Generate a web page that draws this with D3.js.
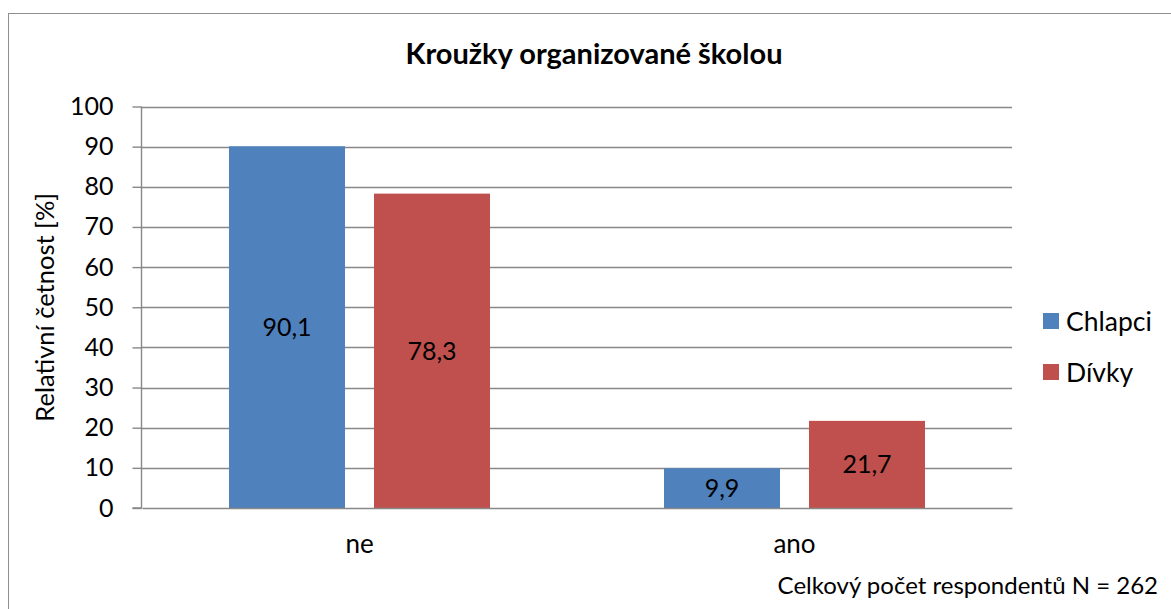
<!DOCTYPE html>
<html><head><meta charset="utf-8">
<script src="https://cdnjs.cloudflare.com/ajax/libs/d3/7.8.5/d3.min.js"></script>
<style>body{margin:0;background:#fff}svg{display:block}text{font-family:Lato,"Open Sans",sans-serif;fill:#000}</style>
</head><body>
<script>
const categories = ["ne", "ano"];
const seriesNames = ["Chlapci", "Dívky"];
const chlapci = [90.1, 9.9];
const divky = [78.3, 21.7];
const yTicks = [0, 10, 20, 30, 40, 50, 60, 70, 80, 90, 100];
const colors = ["#4F81BD", "#C0504D"];
const title = "Kroužky organizované školou";
const yTitle = "Relativní četnost [%]";
const note = "Celkový počet respondentů N = 262";

const W = 1171, H = 609;
const svg = d3.select("body").append("svg").attr("width", W).attr("height", H);
svg.append("rect").attr("x", 8.5).attr("y", 13.5).attr("width", 1200).attr("height", 700)
  .attr("fill", "#fff").attr("stroke", "#8f8f8f").attr("stroke-width", 1);

const plot = {l: 142, r: 1012, t: 106.5, b: 508};
const x0 = d3.scaleBand().domain(categories).range([plot.l, plot.r]).padding(0);
const x1 = d3.scaleBand().domain(seriesNames).range([x0.bandwidth() * 0.2, x0.bandwidth() * 0.8]).paddingInner(0.2);
const y = d3.scaleLinear().domain([0, 100]).range([plot.b, plot.t]);

// gridlines
svg.append("g").selectAll("line").data(yTicks.filter(d => d > 0)).join("line")
  .attr("x1", plot.l).attr("x2", plot.r)
  .attr("y1", d => Math.round(y(d)) + 0.5).attr("y2", d => Math.round(y(d)) + 0.5)
  .attr("stroke", "#888").attr("stroke-width", 1.4);

const data = categories.map((c, i) => ({cat: c, vals: [chlapci[i], divky[i]]}));
const g = svg.append("g").selectAll("g").data(data).join("g")
  .attr("transform", d => `translate(${x0(d.cat)},0)`);
g.selectAll("rect").data(d => d.vals.map((v, j) => ({s: seriesNames[j], v, j}))).join("rect")
  .attr("x", d => x1(d.s)).attr("width", x1.bandwidth())
  .attr("y", d => y(d.v)).attr("height", d => y(0) - y(d.v))
  .attr("fill", d => colors[d.j]);
g.selectAll("text").data(d => d.vals.map((v, j) => ({s: seriesNames[j], v, j}))).join("text")
  .attr("x", d => x1(d.s) + x1.bandwidth() / 2)
  .attr("y", d => (y(d.v) + y(0)) / 2)
  .attr("dy", "0.35em").attr("text-anchor", "middle").attr("font-size", 25)
  .text(d => d.v.toFixed(1).replace(".", ","));

// y axis
const yAxis = d3.axisLeft(y).tickValues(yTicks).tickSize(9).tickPadding(19);
const ya = svg.append("g").attr("transform", `translate(${plot.l - 0.5},0)`).call(yAxis);
ya.select(".domain").attr("stroke", "#888").attr("stroke-width", 1.4).attr("d", `M-9,${plot.b}H0V${plot.t}`);
ya.selectAll(".tick line").attr("stroke", "#888").attr("stroke-width", 1.4);
ya.selectAll(".tick text").attr("font-size", 25).attr("font-family", "Lato").attr("fill", "#000");

// x axis
const xAxis = d3.axisBottom(x0).tickSize(0).tickPadding(27);
const xa = svg.append("g").attr("transform", `translate(0,${plot.b})`).call(xAxis);
xa.select(".domain").attr("stroke", "#888").attr("stroke-width", 1.4);
xa.selectAll(".tick text").attr("font-size", 26).attr("font-family", "Lato").attr("fill", "#000");

// title
svg.append("text").attr("x", 594).attr("y", 64).attr("text-anchor", "middle")
  .attr("font-size", 29).attr("font-weight", "bold").text(title);

// y title
svg.append("text").attr("transform", `translate(54,${(plot.t + plot.b) / 2}) rotate(-90)`)
  .attr("text-anchor", "middle").attr("font-size", 25.5).text(yTitle);

// legend
const leg = svg.append("g").selectAll("g").data(seriesNames).join("g")
  .attr("transform", (d, i) => `translate(1043,${321 + i * 51})`);
leg.append("rect").attr("x", 0).attr("y", -8).attr("width", 16).attr("height", 16)
  .attr("fill", (d, i) => colors[i]);
leg.append("text").attr("x", 23).attr("dy", "0.36em").attr("font-size", 26.5).text(d => d);

// note
svg.append("text").attr("x", 1158).attr("y", 594).attr("text-anchor", "end")
  .attr("font-size", 24).text(note);
</script>
</body></html>
